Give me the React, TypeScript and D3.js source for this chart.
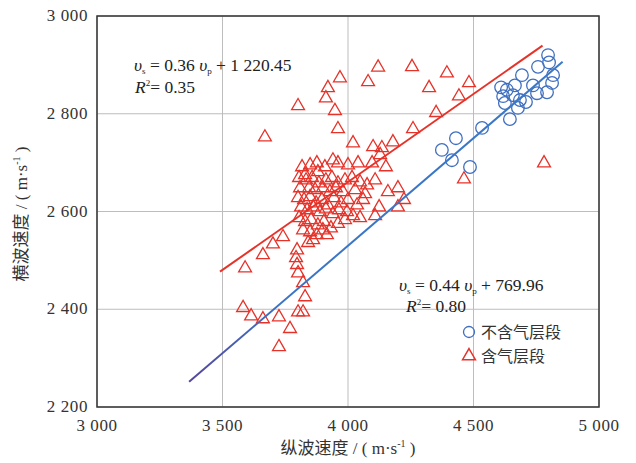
import React from 'react';
import * as d3 from 'd3';

// gas-free layer (circles): [vp, vs]
const noGas: [number, number][] = [
  [4797, 2920], [4757, 2896], [4817, 2879], [4793, 2844], [4753, 2842], [4693, 2879],
  [4633, 2849], [4618, 2836], [4657, 2838], [4685, 2828], [4709, 2824], [4677, 2812],
  [4645, 2789], [4534, 2771], [4430, 2750], [4374, 2726], [4414, 2705], [4486, 2691],
  [4813, 2863], [4737, 2858], [4610, 2854], [4801, 2905], [4665, 2858], [4625, 2822],
];

// gas-bearing layer (triangles): [vp, vs]
const gas: [number, number][] = [
  [3669, 2752], [3801, 2816], [3968, 2873], [3920, 2853], [3912, 2832], [3948, 2806],
  [3960, 2769], [4080, 2865], [4120, 2895], [4020, 2740], [4100, 2732], [4255, 2896],
  [4394, 2883], [4323, 2853], [4482, 2863], [4442, 2836], [4351, 2802], [4259, 2769],
  [4179, 2742], [4135, 2730], [4781, 2699], [4462, 2666],
  [4151, 2691], [4199, 2648], [4159, 2640], [4223, 2624], [4199, 2609], [4124, 2609],
  [3590, 2484], [3661, 2511], [3701, 2533], [3741, 2548], [3797, 2521], [3793, 2505],
  [3797, 2491], [3801, 2474], [3821, 2454], [3829, 2425], [3841, 2536], [3916, 2552],
  [3582, 2403], [3614, 2386], [3661, 2380], [3725, 2384], [3801, 2394], [3821, 2394],
  [3769, 2360], [3725, 2323],
  [3817, 2691], [3849, 2695], [3876, 2699], [3908, 2691], [3940, 2705], [3960, 2699],
  [4000, 2695], [4040, 2699], [4096, 2699], [4128, 2716], [3880, 2681], [3829, 2675],
  [3805, 2669], [3833, 2664], [3857, 2669], [3884, 2658], [3912, 2664], [3936, 2669],
  [3960, 2658], [3988, 2664], [4016, 2669], [4048, 2660], [4076, 2654], [4108, 2664],
  [3845, 2648], [3869, 2644], [3900, 2648], [3928, 2640], [3952, 2648], [3980, 2640],
  [4028, 2644], [4068, 2636], [3809, 2648],
  [3801, 2628], [3825, 2624], [3849, 2630], [3873, 2617], [3896, 2624], [3920, 2613],
  [3944, 2628], [3972, 2617], [4000, 2624], [4036, 2613], [4060, 2624], [3813, 2609],
  [3837, 2603], [3861, 2609], [3888, 2599], [3912, 2605], [3940, 2595], [3964, 2603],
  [3996, 2599], [4020, 2591],
  [3805, 2587], [3829, 2579], [3853, 2583], [3880, 2572], [3904, 2579], [3932, 2566],
  [3960, 2575], [3988, 2583], [4048, 2587], [4108, 2591], [3821, 2562], [3849, 2558],
  [3876, 2552], [3900, 2562], [3861, 2542],
];

// fits: slope, intercept, vp range
const gasFit = { k: 0.36, b: 1220.45, from: 3490, to: 4775 };
const noGasFit = { k: 0.44, b: 769.96, from: 3367, to: 4855 };

const xTicks = [3000, 3500, 4000, 4500, 5000];
const yTicks = [2200, 2400, 2600, 2800, 3000];
const fmt = (v: number) => `${Math.floor(v / 1000)} ${String(v % 1000).padStart(3, '0')}`;

const W = 636, H = 463;
const m = { left: 97, right: 599, top: 16, bottom: 407 };
const serif = '"Liberation Serif", "DejaVu Serif", serif';
const cjk = '"Noto Sans CJK SC", sans-serif';
const RED = '#e6332a';
const BLUE = '#3f6fc0';

export default function App() {
  const x = d3.scaleLinear().domain([3000, 5000]).range([m.left, m.right]);
  const y = d3.scaleLinear().domain([2200, 3000]).range([m.bottom, m.top]);
  const tri = d3.symbol().type(d3.symbolTriangle).size(72)();
  const fitLine = (f: { k: number; b: number; from: number; to: number }) =>
    d3.line<number>().x((v) => x(v)).y((v) => y(f.k * v + f.b))([f.from, f.to]) || '';

  return (
    <svg width={W} height={H} style={{ position: 'absolute', left: 0, top: 0, background: '#fff' }}>
      <defs>
        <linearGradient id="blueGrad" x1="0" y1="1" x2="1" y2="0">
          <stop offset="0" stopColor="#55479a" />
          <stop offset="0.25" stopColor="#3a74c6" />
          <stop offset="1" stopColor="#3a78c8" />
        </linearGradient>
      </defs>
      {/* grid */}
      {xTicks.map((t) => (
        <line key={'gx' + t} x1={x(t)} x2={x(t)} y1={m.top} y2={m.bottom} stroke="#bdbdbd" strokeWidth={1} />
      ))}
      {yTicks.map((t) => (
        <line key={'gy' + t} x1={m.left} x2={m.right} y1={y(t)} y2={y(t)} stroke="#bdbdbd" strokeWidth={1} />
      ))}
      <rect x={m.left} y={m.top} width={m.right - m.left} height={m.bottom - m.top} fill="none" stroke="#333" strokeWidth={1.5} />

      {/* tick labels */}
      {xTicks.map((t) => (
        <text key={'tx' + t} x={x(t)} y={m.bottom + 24} textAnchor="middle" fontFamily={serif} fontSize={17} letterSpacing={0.6} fill="#333">
          {fmt(t)}
        </text>
      ))}
      {yTicks.map((t) => (
        <text key={'ty' + t} x={m.left - 9} y={y(t) + 5} textAnchor="end" fontFamily={serif} fontSize={17} letterSpacing={0.6} fill="#333">
          {fmt(t)}
        </text>
      ))}

      {/* axis titles */}
      <text x={348} y={454} textAnchor="middle" fontSize={17} fill="#333">
        <tspan fontFamily={cjk}>纵波速度</tspan>
        <tspan fontFamily={serif}> / ( m·s</tspan>
        <tspan fontFamily={serif} fontSize={10} dy={-7}>-1</tspan>
        <tspan fontFamily={serif} dy={7}> )</tspan>
      </text>
      <text transform="translate(27,214) rotate(-90)" textAnchor="middle" fontSize={17} fill="#333">
        <tspan fontFamily={cjk}>横波速度</tspan>
        <tspan fontFamily={serif}> / ( m·s</tspan>
        <tspan fontFamily={serif} fontSize={10} dy={-7}>-1</tspan>
        <tspan fontFamily={serif} dy={7}> )</tspan>
      </text>

      {/* points */}
      {gas.map((d, i) => (
        <path key={'g' + i} d={tri} transform={`translate(${x(d[0])},${y(d[1])})`} fill="none" stroke={RED} strokeWidth={1.3} />
      ))}
      {noGas.map((d, i) => (
        <circle key={'n' + i} cx={x(d[0])} cy={y(d[1])} r={6.3} fill="none" stroke={BLUE} strokeWidth={1.3} />
      ))}

      {/* fit lines */}
      <path d={fitLine(gasFit)} stroke={RED} strokeWidth={2} fill="none" />
      <path d={fitLine(noGasFit)} stroke="url(#blueGrad)" strokeWidth={2} fill="none" />

      {/* equations */}
      <text x={134} y={71} fontFamily={serif} fontSize={17.5} fill="#222">
        <tspan fontStyle="italic">υ</tspan>
        <tspan fontSize={9} dy={3}>s</tspan>
        <tspan dy={-3}> = 0.36 </tspan>
        <tspan fontStyle="italic">υ</tspan>
        <tspan fontSize={9} dy={3}>p</tspan>
        <tspan dy={-3}> + 1 220.45</tspan>
      </text>
      <text x={135} y={93} fontFamily={serif} fontSize={17.5} fill="#222">
        <tspan fontStyle="italic">R</tspan>
        <tspan fontSize={9} dy={-7}>2</tspan>
        <tspan dy={7}>= 0.35</tspan>
      </text>
      <text x={399} y={291} fontFamily={serif} fontSize={17.5} fill="#222">
        <tspan fontStyle="italic">υ</tspan>
        <tspan fontSize={9} dy={3}>s</tspan>
        <tspan dy={-3}> = 0.44 </tspan>
        <tspan fontStyle="italic">υ</tspan>
        <tspan fontSize={9} dy={3}>p</tspan>
        <tspan dy={-3}> + 769.96</tspan>
      </text>
      <text x={406} y={312} fontFamily={serif} fontSize={17.5} fill="#222">
        <tspan fontStyle="italic">R</tspan>
        <tspan fontSize={9} dy={-7}>2</tspan>
        <tspan dy={7}>= 0.80</tspan>
      </text>

      {/* legend */}
      <circle cx={469} cy={332} r={5.5} fill="none" stroke={BLUE} strokeWidth={1.3} />
      <text x={481} y={338} fontFamily={cjk} fontSize={16} fill="#333">不含气层段</text>
      <path d={tri} transform="translate(469,356)" fill="none" stroke={RED} strokeWidth={1.5} />
      <text x={481} y={362} fontFamily={cjk} fontSize={16} fill="#333">含气层段</text>
    </svg>
  );
}
